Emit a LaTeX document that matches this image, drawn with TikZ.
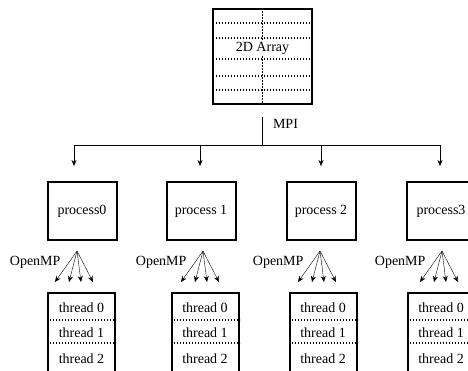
\documentclass[tikz,border=0pt]{standalone}
\usepackage{fontspec}
\setmainfont{Liberation Serif}
\usetikzlibrary{arrows.meta}

\begin{document}
\begin{tikzpicture}[x=1pt, y=-1pt, font=\fontsize{14}{16}\selectfont,
	procbox/.style={rectangle, draw, line width=2pt, minimum width=69pt, minimum height=58pt},
	thrbox/.style={rectangle, draw, line width=2pt, minimum width=67pt, minimum height=82pt, anchor=north},
	dotline/.style={line width=1.3pt, dash pattern=on 1.3pt off 1.7pt},
	arr/.style={-{Stealth[length=6pt, width=5pt]}}]

	\useasboundingbox (0, 0) rectangle (468, 370);

	% the 2D array
	\node (arr) at (262.5, 56.5) [rectangle, draw, line width=1.2pt, minimum width=99pt, minimum height=95pt] {};
	\foreach \y in {23, 38, 59, 76, 90}
		\draw [dotline] (213, \y) -- (312, \y);
	\draw [dotline] (arr.north) -- (arr.south);
	\node (lbl) at (262.5, 48) [fill=white, inner sep=1pt] {2D Array};

	% MPI bus
	\coordinate (mpi) at (262.5, 117);
	\coordinate (bus) at (262.5, 145);
	\draw (mpi) -- (bus) node [pos=0.25, right=7pt] {MPI};

	\foreach \i/\n/\x/\bx/\tx/\fx in {0/process0/82/74/81.5/77, 1/process 1/201/200/205/203, 2/process 2/321/321/323/320, 3/process3/441/440/441/442} {
		\node (p\i) at (\x, 211) [procbox] {\n};

		\coordinate (b\i) at (\bx, 145);
		\draw [arr, shorten >=15pt] (b\i) -- (b\i |- p\i.north);

		% OpenMP fan
		\coordinate (f\i) at (\fx, 251);
		\foreach \d in {-22, -8, 4, 16}
			\draw [arr, thin] (f\i) -- ++(\d, 31);
		\node [anchor=east] at (\fx-13, 262) {OpenMP};

		\node (t\i) at (\tx, 292) [thrbox] {};
		\draw [dotline] ([yshift=-28pt]t\i.north west) -- ([yshift=-28pt]t\i.north east);
		\draw [dotline] ([yshift=-51pt]t\i.north west) -- ([yshift=-51pt]t\i.north east);
		\foreach \k/\dy in {0/16, 1/41, 2/67}
			\node at ([yshift=-\dy pt]t\i.north) {thread \k};
	}
	\draw (b0) -- (b3);

\end{tikzpicture}
\end{document}
